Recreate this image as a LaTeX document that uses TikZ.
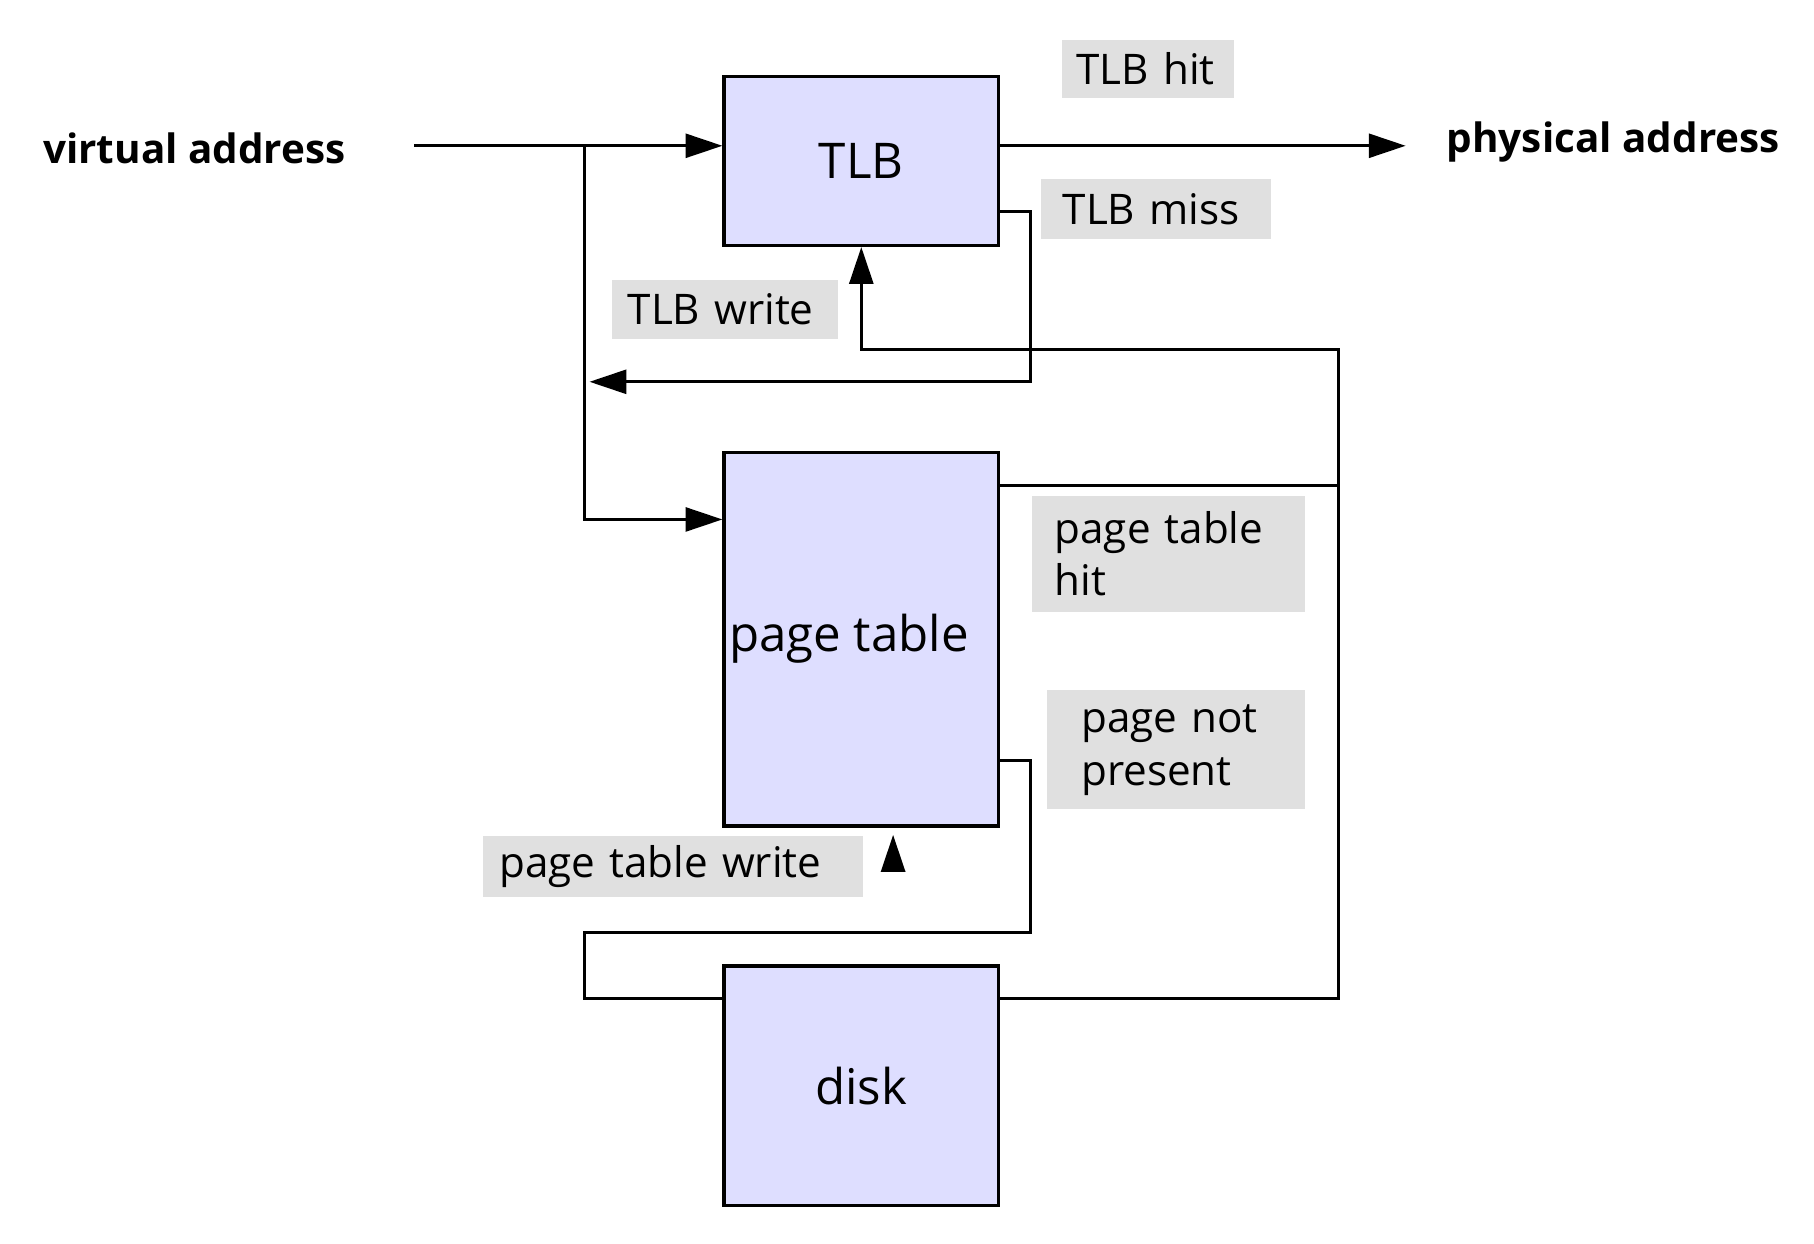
\documentclass[tikz,border=0pt]{standalone}
\usepackage{fontspec}
\setmainfont{Open Sans}
\usetikzlibrary{positioning,arrows.meta}
\definecolor{unitblue}{RGB}{222,222,255}
\definecolor{taggray}{RGB}{224,224,224}

\begin{document}
\begin{tikzpicture}[x=0.011569cm, y=-0.011569cm,
    unit/.style={draw, line width=1pt, fill=unitblue, inner sep=0pt,
        font=\fontsize{14}{16}\selectfont},
    tag/.style={fill=taggray, inner ysep=0pt, anchor=north west, align=left,
        font=\fontsize{12}{15}\selectfont},
    wire/.style={line width=0.9pt},
    arr/.style={wire, -{Triangle[length=10.5pt,width=6.8pt]}}]
    \useasboundingbox (0,0) rectangle (1568,1075);

    % blocks
    \node[unit, minimum width=2.742cm, minimum height=1.689cm] (tlb) at (744.5,139) {TLB};
    \node[unit, minimum width=2.742cm, minimum height=3.737cm] (pt) at (744.5,552.5) {\hspace*{-7pt}page table};
    \node[unit, minimum width=2.742cm, minimum height=2.395cm] (disk) at (744.5,938.5) {disk};

    % in and out
    \node[font=\bfseries\fontsize{11.5}{14}\selectfont] (va) at (168,128) {virtual address};
    \node[anchor=west, inner sep=0pt, font=\bfseries\fontsize{11.5}{14}\selectfont] (pa) at (1250,123) {physical address};

    % labels
    \node[tag, text width=1.423cm, inner xsep=0.150cm, minimum height=0.578cm] (hit) at (917,34) {TLB hit};
    \node[tag, text width=1.863cm, inner xsep=0.220cm, minimum height=0.602cm] (miss) at (899,154) {TLB miss};
    \node[tag, text width=1.944cm, inner xsep=0.162cm, minimum height=0.590cm] (tlbw) at (528,241) {TLB write};
    \node[tag, text width=2.268cm, inner xsep=0.231cm, minimum height=1.157cm] (pthit) at (891,428) {page table\\hit};
    \node[tag, text width=1.886cm, inner xsep=0.347cm, minimum height=1.192cm] (notp) at (904,596) {page not\\present};
    \node[tag, text width=3.471cm, inner xsep=0.162cm, minimum height=0.613cm] (ptw) at (417,722) {page table write};

    \coordinate (vain) at (358,126);
    \coordinate (split) at (505,126);
    \coordinate (ptwtail) at (772,752);

    % TLB lookup
    \draw[arr] (vain) -- (vain -| tlb.west);
    \draw[arr] (tlb.east |- vain) -- (pa.west |- vain) [shorten >=11.5pt];
    \draw[arr] (split) |- (pt.west |- 0,449);

    % TLB miss
    \draw[arr, shorten >=1.5pt] (tlb.east |- 0,183) -| (891,330) -- (split |- 0,330);

    % TLB write
    \draw[wire] (pt.east |- 0,420) -- (1157,420);
    \draw[arr] (disk.east |- 0,863) -| (1157,302) -| (tlb.south);

    % page fault
    \draw[wire] (pt.east |- 0,657) -| (891,806) -| (505,863) -- (disk.west |- 0,863);
    \draw[arr, shorten >=2pt] (ptwtail) -- (pt.south -| ptwtail);
\end{tikzpicture}
\end{document}
